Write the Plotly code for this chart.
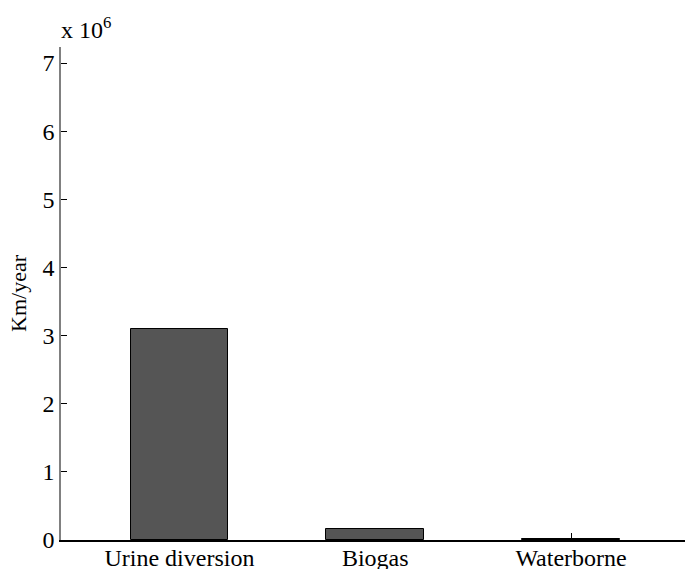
import plotly.graph_objects as go

categories = ["Urine diversion", "Biogas", "Waterborne"]
values = [3.09e6, 0.16e6, 0.008e6]
ytick_vals = [0, 1e6, 2e6, 3e6, 4e6, 5e6, 6e6, 7e6]
ytick_text = ["0", "1", "2", "3", "4", "5", "6", "7"]

FONT = "Liberation Serif"

fig = go.Figure()
fig.add_trace(go.Bar(
    x=[0, 1, 2], y=values, width=0.5,
    marker=dict(color="#555555", line=dict(color="#000000", width=1)),
    showlegend=False,
))

fig.update_layout(
    width=685, height=569,
    margin=dict(l=61, r=0, t=47, b=29),
    paper_bgcolor="white", plot_bgcolor="white",
    font=dict(family=FONT, size=24, color="#000000"),
    bargap=0,
    xaxis=dict(
        range=[-0.605, 2.582], automargin=False,
        tickmode="array", tickvals=[0, 1, 2], ticktext=categories,
        ticks="inside", ticklen=7, tickcolor="#000000", tickwidth=1,
        ticklabelstandoff=-5,
        showline=True, linecolor="#000000", linewidth=1.5,
        showgrid=False, zeroline=False, layer="below traces",
        tickfont=dict(family=FONT, size=24, color="#000000"),
    ),
    yaxis=dict(
        range=[0, 7.235e6], automargin=False,
        tickmode="array", tickvals=ytick_vals, ticktext=ytick_text,
        ticks="inside", ticklen=6, tickcolor="#000000", tickwidth=1,
        showline=True, linecolor="#808080", linewidth=1.5,
        showgrid=False, zeroline=False, layer="below traces",
        tickfont=dict(family=FONT, size=24, color="#000000"),
        title=dict(text="Km/year", standoff=10,
                   font=dict(family=FONT, size=22, color="#000000")),
    ),
    annotations=[dict(
        text="x 10<sup>6</sup>", xref="paper", yref="paper",
        x=0, y=1, xanchor="left", yanchor="bottom", showarrow=False,
        xshift=-2, yshift=2,
        font=dict(family=FONT, size=24, color="#000000"),
    )],
)

fig.write_html("out.html")
